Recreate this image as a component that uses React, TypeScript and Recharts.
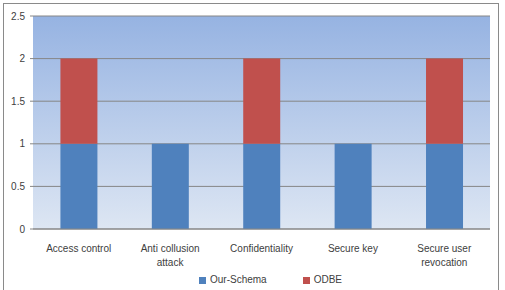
import React from "react";
import {
  BarChart,
  Bar,
  XAxis,
  YAxis,
  CartesianGrid,
  Legend
} from "recharts";

const categories = [
  "Access control",
  "Anti collusion attack",
  "Confidentiality",
  "Secure key",
  "Secure user revocation"
];
const ourSchema = [1, 1, 1, 1, 1];
const odbe = [1, 0, 1, 0, 1];
const yTicks = [0, 0.5, 1, 1.5, 2, 2.5];
const seriesOrder = ["Our-Schema", "ODBE"];

const data = categories.map((name, i) => ({
  name,
  "Our-Schema": ourSchema[i],
  ODBE: odbe[i]
}));

const FONT = "'Liberation Sans', Arial, sans-serif";

// break label into lines of at most 14 chars, on spaces
function wrapLabel(s: string, max = 14) {
  const lines: string[] = [];
  let cur = "";
  s.split(" ").forEach((w) => {
    const next = cur ? cur + " " + w : w;
    if (next.length > max && cur) {
      lines.push(cur);
      cur = w;
    } else {
      cur = next;
    }
  });
  if (cur) lines.push(cur);
  return lines;
}

function CategoryTick(props: any) {
  const { x, y, payload } = props;
  const lines = wrapLabel(String(payload.value));
  return (
    <text
      x={x}
      y={y + 6}
      textAnchor="middle"
      fontSize={10}
      fontFamily={FONT}
      fill="#404040"
    >
      {lines.map((l, i) => (
        <tspan key={i} x={x} dy={i === 0 ? "0.9em" : 14}>{l}</tspan>
      ))}
    </text>
  );
}

export default function App() {
  return (
    <div style={{ position: "absolute", left: 0, top: 0, width: 505, height: 290, overflow: "hidden" }}>
      <div style={{
        position: "absolute",
        left: 3,
        top: 3,
        width: 496,
        height: 300,
        border: "1px solid #8a8a8a",
        boxSizing: "border-box"
      }} />
      <BarChart
        width={505}
        height={290}
        data={data}
        margin={{ top: 16, right: 15, left: 0, bottom: 2 }}
        barCategoryGap="30%"
      >
        <defs>
          <linearGradient id="plotBg" x1="0" y1="0" x2="0" y2="1">
            <stop offset="0%" stopColor="#96b3e2" />
            <stop offset="100%" stopColor="#dde6f3" />
          </linearGradient>
        </defs>
        <CartesianGrid
          vertical={false}
          stroke="#868686"
          fill="url(#plotBg)"
          fillOpacity={1}
        />
        <XAxis
          dataKey="name"
          height={45}
          interval={0}
          tick={<CategoryTick />}
          tickLine={false}
          axisLine={{ stroke: "#868686" }}
        />
        <YAxis
          width={33}
          domain={[0, 2.5]}
          ticks={yTicks}
          tickSize={3}
          tickMargin={5}
          axisLine={false}
          tickLine={{ stroke: "#868686" }}
          tick={{ fontSize: 10, fontFamily: FONT, fill: "#404040" }}
        />
        <Legend
          iconType="square"
          iconSize={7}
          align="left"
          itemSorter={(item: any) => seriesOrder.indexOf(item.value)}
          formatter={(value: string) => (
            <span style={{ color: "#404040", fontSize: 10, fontFamily: FONT, marginRight: 26 }}>
              {value}
            </span>
          )}
          wrapperStyle={{
            position: "absolute",
            top: 273,
            left: 199,
            width: 200,
            fontSize: 10,
            fontFamily: FONT,
            lineHeight: "14px"
          }}
        />
        <Bar dataKey="Our-Schema" stackId="a" fill="#4f81bd" isAnimationActive={false} />
        <Bar dataKey="ODBE" stackId="a" fill="#c0504d" isAnimationActive={false} />
      </BarChart>
    </div>
  );
}
